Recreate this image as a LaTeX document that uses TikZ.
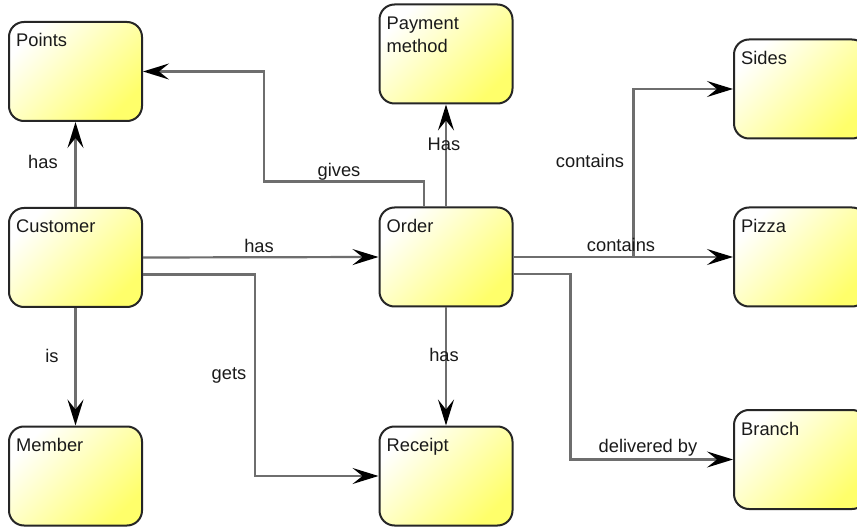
\documentclass[tikz,border=0pt]{standalone}
\usepackage{fontspec}
\setmainfont{Liberation Sans}
\usetikzlibrary{arrows.meta,calc}
\definecolor{boxline}{HTML}{262626}
\definecolor{linkgray}{HTML}{6E6E6E}
\definecolor{fillhi}{HTML}{FFFFFF}
\definecolor{fillmid}{HTML}{FFFFC4}
\definecolor{filllo}{HTML}{FFFF6A}
\definecolor{inktext}{HTML}{1A1A1A}

\begin{document}
\begin{tikzpicture}[x=1pt,y=-1pt,
  entity/.style={draw=boxline, line width=2pt, rounded corners=15pt,
    minimum width=133pt, minimum height=99pt, inner sep=0pt,
    top color=fillhi, middle color=fillmid, bottom color=filllo, shading angle=45},
  title/.style={anchor=base west, inner sep=0pt, align=left,
    font=\fontsize{18.3}{23}\selectfont, text=inktext},
  link/.style={draw=linkgray, line width=2.2pt,
    -{Stealth[length=26pt,width=16pt,inset=10pt,color=black]}},
  tag/.style={inner sep=0pt, font=\fontsize{18.3}{21}\selectfont, text=inktext}]

\useasboundingbox (0,0) rectangle (857,529);
\fill[white] (0,0) rectangle (857,529);

% entities
\node[entity] (points)   at (75.5,71.5)  {};
\node[entity] (payment)  at (446,54)     {};
\node[entity] (sides)    at (800.5,89)   {};
\node[entity] (customer) at (75.5,257.5) {};
\node[entity] (order)    at (446,257)    {};
\node[entity] (pizza)    at (800.5,257)  {};
\node[entity] (member)   at (75.5,476)   {};
\node[entity] (receipt)  at (446,476)    {};
\node[entity] (branch)   at (800.5,459.5) {};

% entity titles (base anchor sits on the last line)
\node[title] (tPoints)   at ($(points.north west)+(8,26)$)   {Points};
\node[title] (tPayment)  at ($(payment.north west)+(8,49)$)  {Payment\\method};
\node[title] (tSides)    at ($(sides.north west)+(8,26)$)    {Sides};
\node[title] (tCustomer) at ($(customer.north west)+(8,26)$) {Customer};
\node[title] (tOrder)    at ($(order.north west)+(8,26)$)    {Order};
\node[title] (tPizza)    at ($(pizza.north west)+(8,26)$)    {Pizza};
\node[title] (tMember)   at ($(member.north west)+(8,26)$)   {Member};
\node[title] (tReceipt)  at ($(receipt.north west)+(8,26)$)  {Receipt};
\node[title] (tBranch)   at ($(branch.north west)+(8,26)$)   {Branch};

% relationships
\draw[link] (customer.north) -- (points.south);
\draw[link] (customer.south) -- (member.north);
\draw[link] (customer.east) -- (order.west);
\draw[link] ([yshift=-17pt]customer.east) -- ++(112,0) |- (receipt.west);
\draw[link] ([xshift=-22pt]order.north) -- ++(0,-25) -| ($(points.east)+(121,0)$) -- (points.east);
\draw[link] (order.north) -- (payment.south);
\draw[link] (order.south) -- (receipt.north);
\draw[link] (order.east) -- ++(120,0) |- (sides.west);
\draw[link] (order.east) -- (pizza.west);
\draw[link] ([yshift=-17pt]order.east) -- ++(57,0) |- (branch.west);

% relationship labels
\node[tag] (lHasPoints)  at (43,162)  {has};
\node[tag] (lIs)         at (52,356)  {is};
\node[tag] (lHasOrder)   at (259,246) {has};
\node[tag] (lGets)       at (229,375) {gets};
\node[tag] (lGives)      at (339,172) {gives};
\node[tag] (lHasPayment) at (444,144) {Has};
\node[tag] (lHasReceipt) at (444,355) {has};
\node[tag] (lContSides)  at (590,161) {contains};
\node[tag] (lContPizza)  at (621,245) {contains};
\node[tag] (lDelivered)  at (648,448) {delivered by};
\end{tikzpicture}
\end{document}
